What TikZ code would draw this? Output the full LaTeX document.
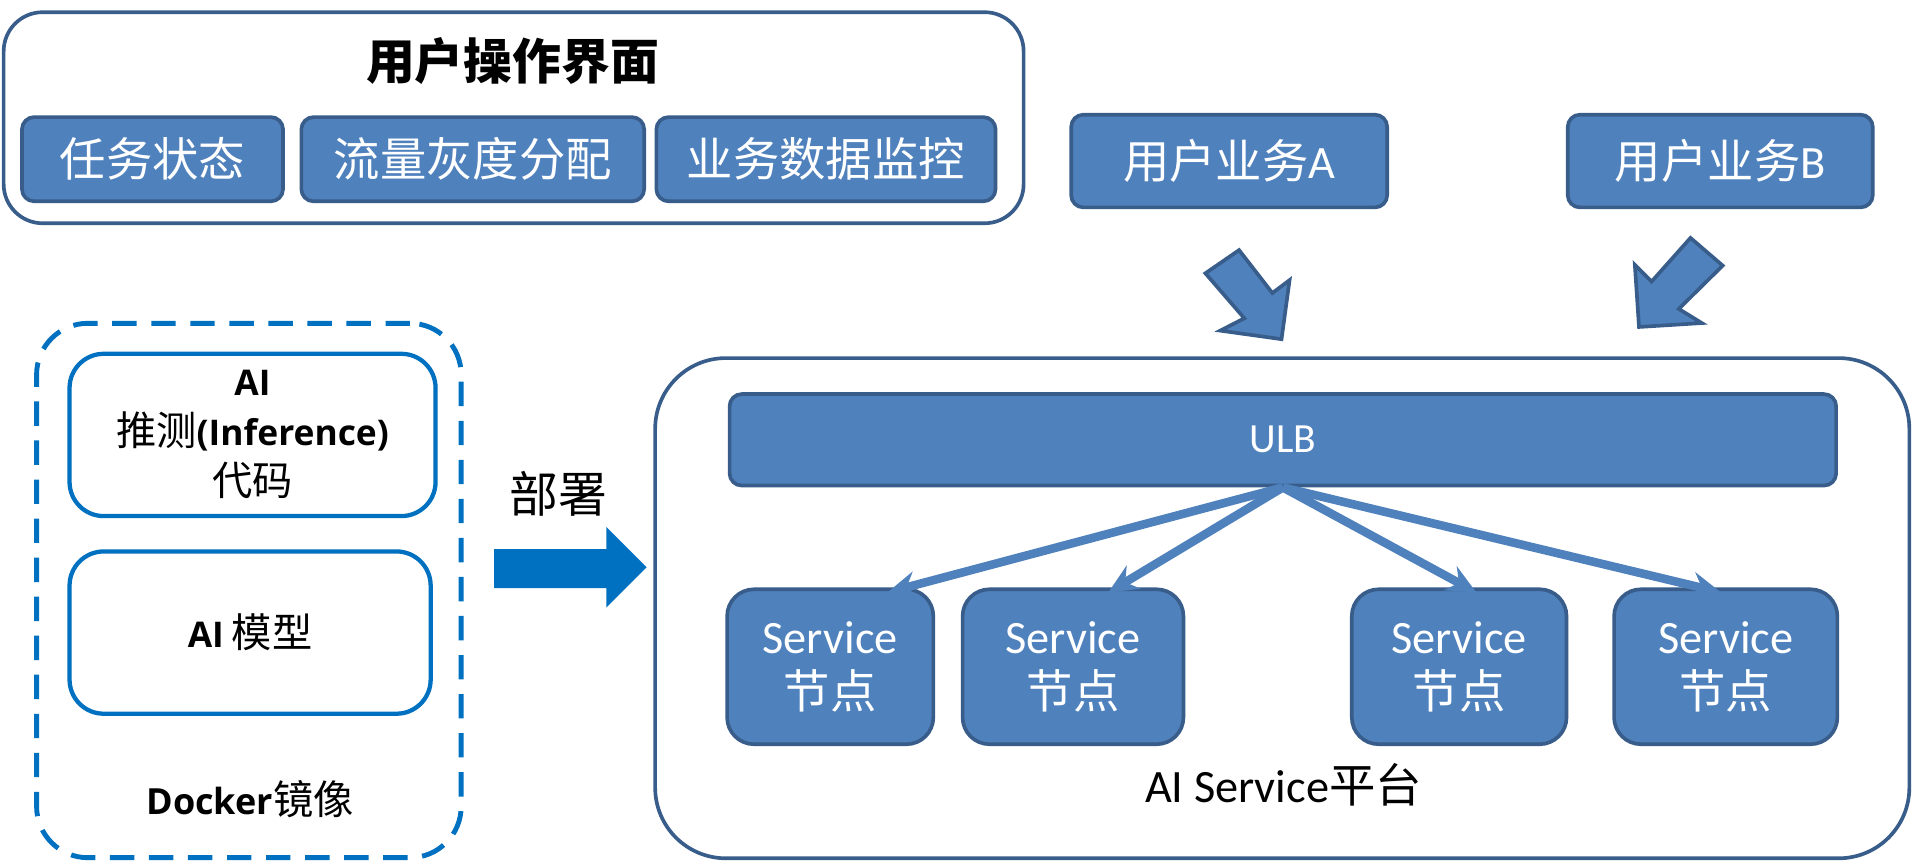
\documentclass[tikz,border=0pt]{standalone}
\usepackage{fontspec}
\setmainfont{Carlito}
\newfontfamily\cjk{Noto Sans CJK SC}
\newfontfamily\os{Open Sans}
\usetikzlibrary{arrows.meta,calc}
\definecolor{fillb}{HTML}{4F81BD}
\definecolor{edgeb}{HTML}{385D8A}
\definecolor{msblue}{HTML}{0070C0}
\newcommand{\bigcjk}[1]{{\fontsize{33}{41}\selectfont\cjk #1}}
\tikzset{
  panel/.style={draw=edgeb, line width=3pt, fill=white, inner sep=0pt},
  bluebox/.style={draw=edgeb, fill=fillb, line width=3pt, rounded corners=10pt, text=white, inner sep=0pt, align=center, font=\fontsize{38}{45}\selectfont},
  svcbox/.style={bluebox, rounded corners=22pt, minimum height=127pt},
  whitebox/.style={draw=msblue, line width=3.5pt, fill=white, rounded corners=28pt, inner sep=0pt, align=center, font=\fontsize{29}{41}\selectfont},
  dashbox/.style={draw=msblue, line width=4pt, dash pattern=on 20pt off 12pt, rounded corners=42pt, inner sep=0pt},
  fatarrow/.style={draw=edgeb, fill=fillb, line width=3pt, line join=miter},
  ulbarrow/.style={draw=fillb, line width=7pt, -{Stealth[length=24pt,width=22pt,inset=8pt]}},
  plain/.style={inner sep=0pt, align=center},
}
\begin{document}
\begin{tikzpicture}[x=1pt,y=-1pt]
\useasboundingbox (0,0) rectangle (1568,706.6);

% top user interface panel
\node[panel, rounded corners=32pt, minimum width=836pt, minimum height=173pt] (ui) at (421,96.5) {};
\node[plain, font=\fontsize{40}{48}\selectfont] (uititle) at (420,50) {\cjk\bfseries 用户操作界面};
\node[bluebox, minimum width=214pt, minimum height=69pt] (b1) at (125,130.5) {\cjk 任务状态};
\node[bluebox, minimum width=281pt, minimum height=69pt] (b2) at (387.5,130.5) {\cjk 流量灰度分配};
\node[bluebox, minimum width=278pt, minimum height=69pt] (b3) at (677,130.5) {\cjk 业务数据监控};

% user business boxes
\node[bluebox, minimum width=259pt, minimum height=76pt] (ua) at (1007.5,132) {{\cjk 用户业务}A};
\node[bluebox, minimum width=250pt, minimum height=76pt] (ub) at (1410,132) {{\cjk 用户业务}B};

% fat arrows
\draw[fatarrow] (988,224) -- (1015.6,205) -- (1042.9,240.2) -- (1057,229.6) -- (1050.4,278) -- (1000.2,271) -- (1019.9,260.9) -- cycle;
\draw[fatarrow] (1340,217.1) -- (1343.4,268) -- (1394.9,264.8) -- (1376,253.2) -- (1412,217.7) -- (1385.6,195) -- (1353.7,230.8) -- cycle;

% docker image
\node[dashbox, minimum width=348pt, minimum height=438pt] (docker) at (204,484) {};
\node[whitebox, minimum width=300pt, minimum height=133pt] (code) at (207,356.5)
  {{\os\bfseries AI}\\\bigcjk{推测}{\os\bfseries (Inference)}\\\bigcjk{代码}};
\node[whitebox, minimum width=296pt, minimum height=133pt] (model) at (205,518.5)
  {{\os\bfseries AI} \bigcjk{模型}};
\node[plain, font=\fontsize{29.5}{36}\selectfont] (dockerlabel) at (205,655) {{\os\bfseries Docker}\bigcjk{镜像}};

% deploy
\node[plain, font=\fontsize{40}{48}\selectfont] (deploy) at (458,405) {\cjk 部署};
\fill[msblue] (405,450) -- (497,450) -- (497,432) -- (530,465) -- (497,498) -- (497,482) -- (405,482) -- cycle;

% AI service platform
\node[panel, rounded corners=58pt, minimum width=1028pt, minimum height=410pt] (platform) at (1051,498.5) {};
\node[bluebox, minimum width=907pt, minimum height=75pt, font=\fontsize{34}{40}\selectfont] (ulb) at (1051.5,360.5) {ULB};
\node[svcbox, minimum width=169pt] (s1) at (680.5,546.5) {Service\\{\cjk 节点}};
\node[svcbox, minimum width=181pt] (s2) at (879.5,546.5) {Service\\{\cjk 节点}};
\node[svcbox, minimum width=176pt] (s3) at (1196,546.5) {Service\\{\cjk 节点}};
\node[svcbox, minimum width=183pt] (s4) at (1414.5,546.5) {Service\\{\cjk 节点}};
\node[plain, font=\fontsize{38}{45}\selectfont] (platlabel) at (1052,643) {AI Service{\cjk 平台}};

\draw[ulbarrow] (ulb.south) -- ([xshift=47pt,yshift=-4pt]s1.north);
\draw[ulbarrow] (ulb.south) -- ([xshift=29pt,yshift=-4pt]s2.north);
\draw[ulbarrow] (ulb.south) -- ([xshift=14pt,yshift=-4pt]s3.north);
\draw[ulbarrow] (ulb.south) -- ([xshift=-4pt,yshift=-4pt]s4.north);
\end{tikzpicture}
\end{document}
